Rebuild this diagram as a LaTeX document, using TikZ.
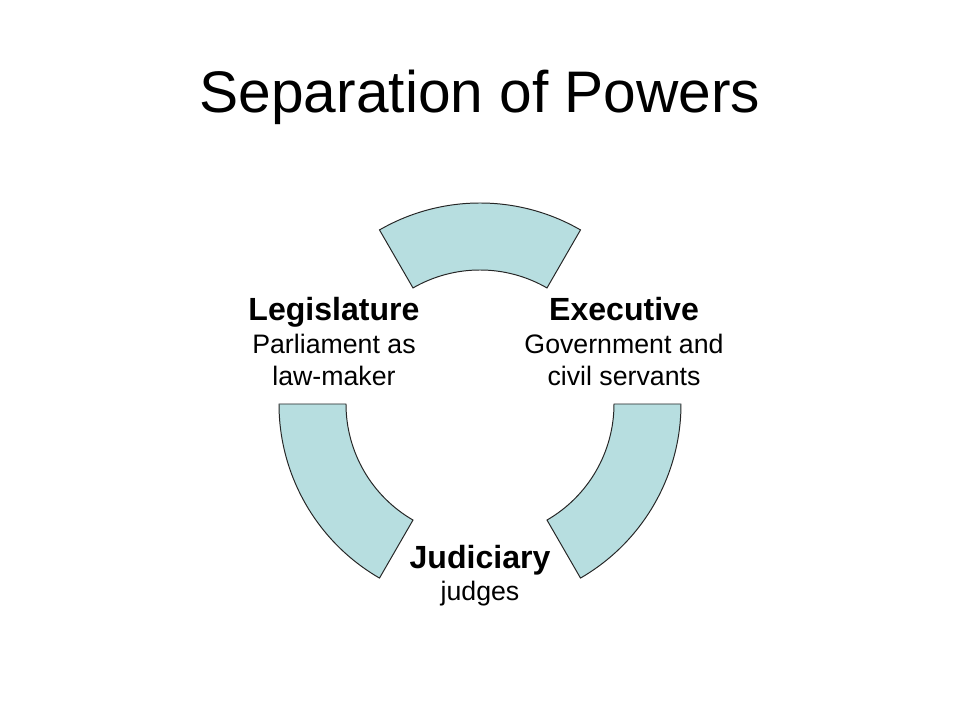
\documentclass[tikz,border=0pt]{standalone}
\usepackage{fontspec}
\setmainfont{Liberation Sans}
\usetikzlibrary{positioning}
\definecolor{powerteal}{RGB}{183,222,224}

\begin{document}
\begin{tikzpicture}[x=0.025cm,y=0.025cm,
    sector/.style={draw=black!85,fill=powerteal,line width=0.7pt},
    branch/.style={align=center,anchor=base,inner sep=0pt,
      font=\fontsize{19}{23.4}\selectfont}]
            \useasboundingbox (-480,-316) rectangle (480,404);
            \coordinate (o) at (0,0);
            \node[anchor=base,font=\fontsize{41.7}{50}\selectfont](title) at (0,291){Separation of Powers};
            % the three arcs of the ring
            \draw[sector] (60:201) arc[start angle=60,end angle=120,radius=201]
                -- (120:134) arc[start angle=120,end angle=60,radius=134] -- cycle;
            \draw[sector] (180:201) arc[start angle=180,end angle=240,radius=201]
                -- (240:134) arc[start angle=240,end angle=180,radius=134] -- cycle;
            \draw[sector] (300:201) arc[start angle=300,end angle=360,radius=201]
                -- (0:134) arc[start angle=360,end angle=300,radius=134] -- cycle;
            % the branches
            \node[branch](legis) at (-146,18){{\bfseries\fontsize{22.8}{24}\selectfont Legislature}\\Parliament as\\law-maker};
            \node[branch](exec) at (144,18){{\bfseries\fontsize{22.8}{24}\selectfont Executive}\\Government and\\civil servants};
            \node[branch](judic) at (0,-197){{\bfseries\fontsize{22.8}{24}\selectfont Judiciary}\\judges};
        \end{tikzpicture}
\end{document}
